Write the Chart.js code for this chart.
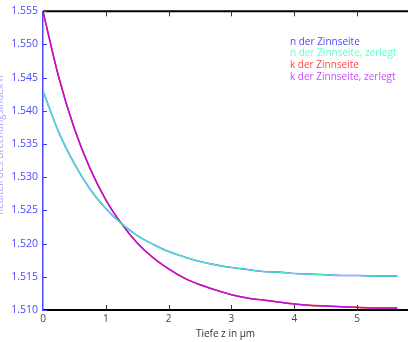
<!DOCTYPE html>
<html>
<head>
<meta charset="utf-8">
<script src="https://cdn.jsdelivr.net/npm/chart.js@4.4.1/dist/chart.umd.min.js"></script>
<style>
html,body{margin:0;padding:0;background:#fff;}
#wrap{width:408px;height:342px;position:relative;}
</style>
</head>
<body>
<div id="wrap"><canvas id="c"></canvas></div>
<script>
// Depth z in µm
const depth = [0, 0.25, 0.5, 0.75, 1, 1.25, 1.5, 1.75, 2, 2.25, 2.5, 2.75, 3, 3.25, 3.5, 3.75, 4, 4.25, 4.5, 4.75, 5, 5.25, 5.5, 5.64];
// n der Zinnseite
const nZinn = [1.5430, 1.5368, 1.5320, 1.5282, 1.5253, 1.5230, 1.5212, 1.5199, 1.5188, 1.5180, 1.5173, 1.5168, 1.5164, 1.5161, 1.5158, 1.5157, 1.5155, 1.5154, 1.5153, 1.5152, 1.5152, 1.5151, 1.5151, 1.5151];
// n der Zinnseite, zerlegt
const nZinnZerlegt = [1.5430, 1.5368, 1.5320, 1.5282, 1.5253, 1.5230, 1.5212, 1.5199, 1.5188, 1.5180, 1.5173, 1.5168, 1.5164, 1.5161, 1.5158, 1.5157, 1.5155, 1.5154, 1.5153, 1.5152, 1.5152, 1.5151, 1.5151, 1.5151];
// k der Zinnseite
const kZinn = [1.5550, 1.5451, 1.5373, 1.5313, 1.5266, 1.5230, 1.5201, 1.5179, 1.5162, 1.5148, 1.5138, 1.5130, 1.5123, 1.5118, 1.5115, 1.5112, 1.5109, 1.5107, 1.5106, 1.5105, 1.5104, 1.5103, 1.5103, 1.5103];
// k der Zinnseite, zerlegt
const kZinnZerlegt = [1.5550, 1.5451, 1.5373, 1.5313, 1.5266, 1.5230, 1.5201, 1.5179, 1.5162, 1.5148, 1.5138, 1.5130, 1.5123, 1.5118, 1.5115, 1.5112, 1.5109, 1.5107, 1.5106, 1.5105, 1.5104, 1.5103, 1.5103, 1.5103];

const seriesLabels = ["n der Zinnseite", "n der Zinnseite, zerlegt", "k der Zinnseite", "k der Zinnseite, zerlegt"];
const xTicks = [0, 1, 2, 3, 4, 5];
const yTicks = [1.510, 1.515, 1.520, 1.525, 1.530, 1.535, 1.540, 1.545, 1.550, 1.555];
const xTitle = "Tiefe z in \u03bcm";
const yTitle = "Realteil des Brechungsindex n";

const FONT = "'Open Sans', 'DejaVu Sans', sans-serif";
const toPts = arr => depth.map((z, i) => ({x: z, y: arr[i]}));

const lineColors = ["#4a5cff", "#4ff0c4", "#ff2a2a", "#b412e6"];
const legendColors = ["#4b4bff", "#66ffc4", "#ff4848", "#c84cff"];

const decor = {
  id: 'decor',
  afterDraw(chart) {
    const ctx = chart.ctx;
    const a = chart.chartArea;
    const xs = chart.scales.x, ys = chart.scales.y;
    ctx.save();
    // top frame
    ctx.strokeStyle = "#000";
    ctx.lineWidth = 2;
    ctx.beginPath(); ctx.moveTo(a.left, a.top); ctx.lineTo(a.right, a.top); ctx.stroke();
    // x ticks (bottom + top), inward
    ctx.lineWidth = 1;
    ctx.strokeStyle = "#333";
    xTicks.forEach(v => {
      const px = Math.round(xs.getPixelForValue(v)) + 0.5;
      if (v === 0) return;
      ctx.beginPath(); ctx.moveTo(px, a.bottom); ctx.lineTo(px, a.bottom - 5); ctx.stroke();
      ctx.beginPath(); ctx.moveTo(px, a.top); ctx.lineTo(px, a.top + 5); ctx.stroke();
    });
    // y ticks inward
    ctx.strokeStyle = "#3a3aff";
    yTicks.forEach(v => {
      const py = Math.round(ys.getPixelForValue(v)) + 0.5;
      ctx.beginPath(); ctx.moveTo(a.left, py); ctx.lineTo(a.left + 4, py); ctx.stroke();
    });
    // legend inside
    ctx.font = "10px " + FONT;
    ctx.textAlign = "left";
    ctx.textBaseline = "middle";
    chart.data.datasets.forEach((ds, i) => {
      ctx.fillStyle = ds.legendColor;
      ctx.fillText(ds.label, 290, 42 + i * 11.6);
    });
    // y title, partially off canvas
    ctx.translate(0, 145);
    ctx.rotate(-Math.PI / 2);
    ctx.textAlign = "center";
    ctx.fillStyle = "#a8a8ff";
    ctx.font = "10px " + FONT;
    ctx.fillText(yTitle, 0, 0);
    ctx.restore();
  }
};

new Chart(document.getElementById('c'), {
  type: 'line',
  data: {
    datasets: [
      {label: seriesLabels[0], data: toPts(nZinn), borderColor: lineColors[0], legendColor: legendColors[0], borderWidth: 1.6, order: 2},
      {label: seriesLabels[1], data: toPts(nZinnZerlegt), borderColor: lineColors[1], legendColor: legendColors[1], borderWidth: 1.2, order: 1},
      {label: seriesLabels[2], data: toPts(kZinn), borderColor: lineColors[2], legendColor: legendColors[2], borderWidth: 1.6, order: 2},
      {label: seriesLabels[3], data: toPts(kZinnZerlegt), borderColor: lineColors[3], legendColor: legendColors[3], borderWidth: 1.4, order: 1}
    ]
  },
  options: {
    responsive: true,
    maintainAspectRatio: false,
    animation: false,
    devicePixelRatio: 1,
    layout: {padding: {top: 8, right: 0, left: 0, bottom: 0}},
    elements: {
      point: {radius: 0},
      line: {cubicInterpolationMode: 'monotone', fill: false}
    },
    plugins: {legend: {display: false}, tooltip: {enabled: false}},
    scales: {
      x: {
        type: 'linear',
        min: 0,
        max: 5.81,
        afterBuildTicks: s => { s.ticks = xTicks.map(v => ({value: v})); },
        afterFit: s => { s.height = 32; },
        ticks: {
          color: "#444",
          font: {family: FONT, size: 10},
          padding: 3,
          maxRotation: 0,
          autoSkip: false,
          callback: v => String(v)
        },
        grid: {display: true, drawOnChartArea: false, drawTicks: false},
        border: {display: true, color: "#000", width: 2},
        title: {display: true, text: xTitle, color: "#333", font: {family: FONT, size: 10}, padding: {top: 0, bottom: 2}}
      },
      y: {
        type: 'linear',
        min: 1.510,
        max: 1.555,
        afterBuildTicks: s => { s.ticks = yTicks.map(v => ({value: v})); },
        afterFit: s => { s.width = 43; },
        ticks: {
          color: "#4a4aff",
          font: {family: FONT, size: 10.5},
          padding: 5,
          autoSkip: false,
          callback: v => Number(v).toFixed(3)
        },
        grid: {display: true, drawOnChartArea: false, drawTicks: false},
        border: {display: true, color: "#4a4aff", width: 1.5}
      }
    }
  },
  plugins: [decor]
});
</script>
</body>
</html>
